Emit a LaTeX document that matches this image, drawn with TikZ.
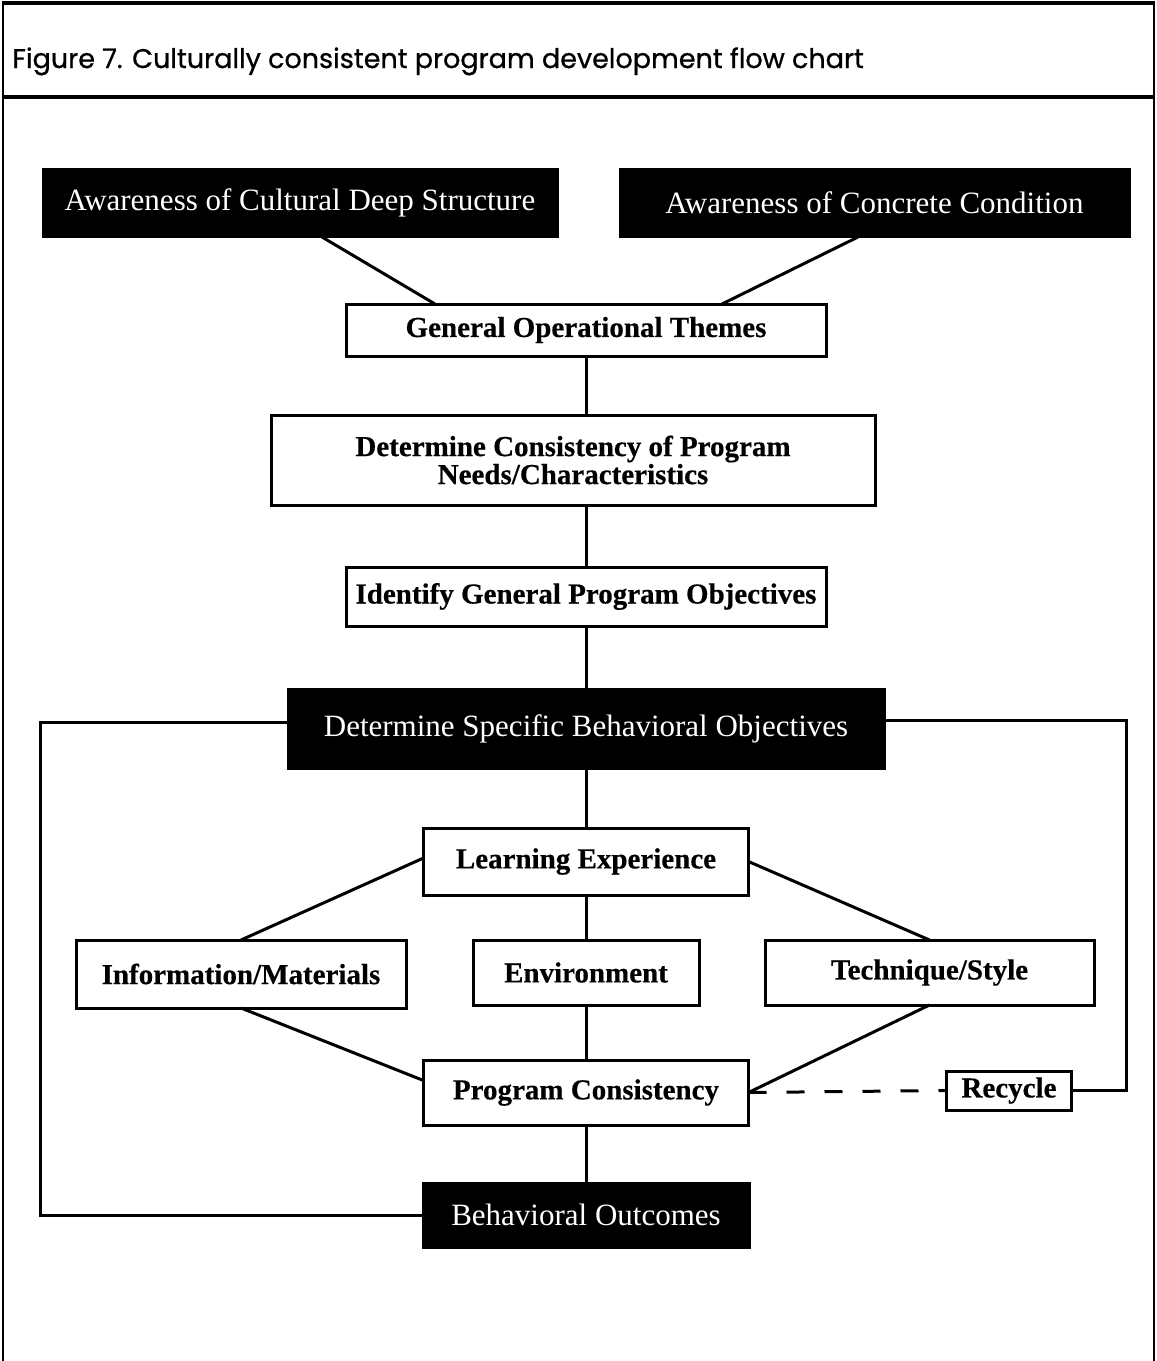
\documentclass[tikz,border=0pt]{standalone}
\usepackage{fontspec}
\setmainfont{Liberation Serif}[BoldFeatures={FakeBold=0.4}]
\newfontfamily\titlefont{Poppins}[FakeBold=0.8]
\usetikzlibrary{positioning}
\tikzstyle{darkNode} = [rectangle, inner sep=0pt, outer sep=0pt, fill=black, draw=black, text=white, font=\fontsize{15.5}{18}\selectfont]
\tikzstyle{lightNode} = [rectangle, inner sep=0pt, outer sep=0pt, line width=1.5pt, draw=black, fill=white, align=center, font=\bfseries\fontsize{14.5}{14}\selectfont]
\tikzstyle{line} = [line width=1.5pt, draw=black]
\tikzstyle{lineD} = [line, dash pattern=on 9pt off 10pt]
\tikzstyle{frame} = [line width=1pt, draw=black]
\tikzstyle{frameT} = [line width=1.6pt, draw=black]

\begin{document}
\begin{tikzpicture}[node distance=65pt]
    \useasboundingbox (0pt,0pt) rectangle (578.5pt,-680.5pt);
    % frame and title
    \draw [frame] (1.5pt,-680.5pt) -- (1.5pt,-1.5pt);
    \draw [frame] (577pt,-1.5pt) -- (577pt,-680.5pt);
    \draw [frameT] (1pt,-1.5pt) -- (577.5pt,-1.5pt);
    \draw [frameT] (1pt,-48.5pt) -- (577.5pt,-48.5pt);
    \node (title) [anchor=base west, inner sep=0pt, font=\titlefont\fontsize{13.5}{15}\selectfont] at (6pt,-34pt) {Figure 7. Culturally consistent program development flow chart};

    \node (themes) [lightNode, minimum width=240pt, minimum height=26pt] at (293pt,-165pt) {General Operational Themes};
    \node (deep) [darkNode, above of=themes, xshift=-143pt, yshift=-1.25pt, minimum width=258pt, minimum height=34.5pt] {Awareness of Cultural Deep Structure};
    \node (concrete) [darkNode, above of=themes, xshift=144.25pt, yshift=-1.25pt, minimum width=255.5pt, minimum height=34.5pt] {Awareness of Concrete Condition};
    \node (consist) [lightNode, below of=themes, xshift=-6.5pt, minimum width=302pt, minimum height=45pt] {Determine Consistency of Program\\Needs/Characteristics};
    \node (general) [lightNode, below of=consist, xshift=6.5pt, yshift=-3.25pt, minimum width=240pt, minimum height=29.5pt] {Identify General Program Objectives};
    \node (specific) [darkNode, below of=general, yshift=-1pt, minimum width=299pt, minimum height=40.5pt] {Determine Specific Behavioral Objectives};
    \node (learn) [lightNode, below of=specific, yshift=-1.5pt, minimum width=162.5pt, minimum height=33.5pt] {Learning Experience};
    \node (env) [lightNode, below of=learn, yshift=9.5pt, minimum width=113pt, minimum height=32.5pt] {Environment};
    \node (info) [lightNode, left of=env, xshift=-107.5pt, yshift=-0.75pt, minimum width=165pt, minimum height=34pt] {Information/Materials};
    \node (tech) [lightNode, right of=env, xshift=106.75pt, minimum width=164.5pt, minimum height=32.5pt] {Technique/Style};
    \node (prog) [lightNode, below of=env, yshift=5pt, minimum width=162.5pt, minimum height=32.5pt] {Program Consistency};
    \node (recycle) [lightNode, right of=prog, xshift=146.5pt, yshift=1pt, minimum width=62.5pt, minimum height=19.5pt] {Recycle};
    \node (outcome) [darkNode, below of=prog, yshift=3.75pt, minimum width=164pt, minimum height=33pt] {Behavioral Outcomes};

    \coordinate (loopL) at (20pt,-480pt);
    \coordinate (loopR) at (563pt,-450pt);

    \draw [line] ([xshift=11pt]deep.south) -- ([xshift=-75.5pt]themes.north);
    \draw [line] ([xshift=-8.25pt]concrete.south) -- ([xshift=68pt]themes.north);
    \draw [line] (themes.south) -- (themes.south |- consist.north);
    \draw [line] (themes.south |- consist.south) -- (general.north);
    \draw [line] (general) -- (specific);
    \draw [line] (specific) -- (learn);
    \draw [line] ([yshift=1.75pt]learn.west) -- (info.north);
    \draw [line] (learn.east) -- (tech.north);
    \draw [line] (learn) -- (env);
    \draw [line] (env) -- (prog);
    \draw [line] (info.south) -- ([yshift=6pt]prog.west);
    \draw [line] (tech.south) -- (prog.east);
    \draw [line] (prog) -- (outcome);
    \draw [lineD] (prog.east) -- (recycle.west);
    \draw [line] ([yshift=3pt]specific.west) -| (loopL) |- (outcome.west);
    \draw [line] ([yshift=4pt]specific.east) -| (loopR) |- (recycle.east);
\end{tikzpicture}
\end{document}
